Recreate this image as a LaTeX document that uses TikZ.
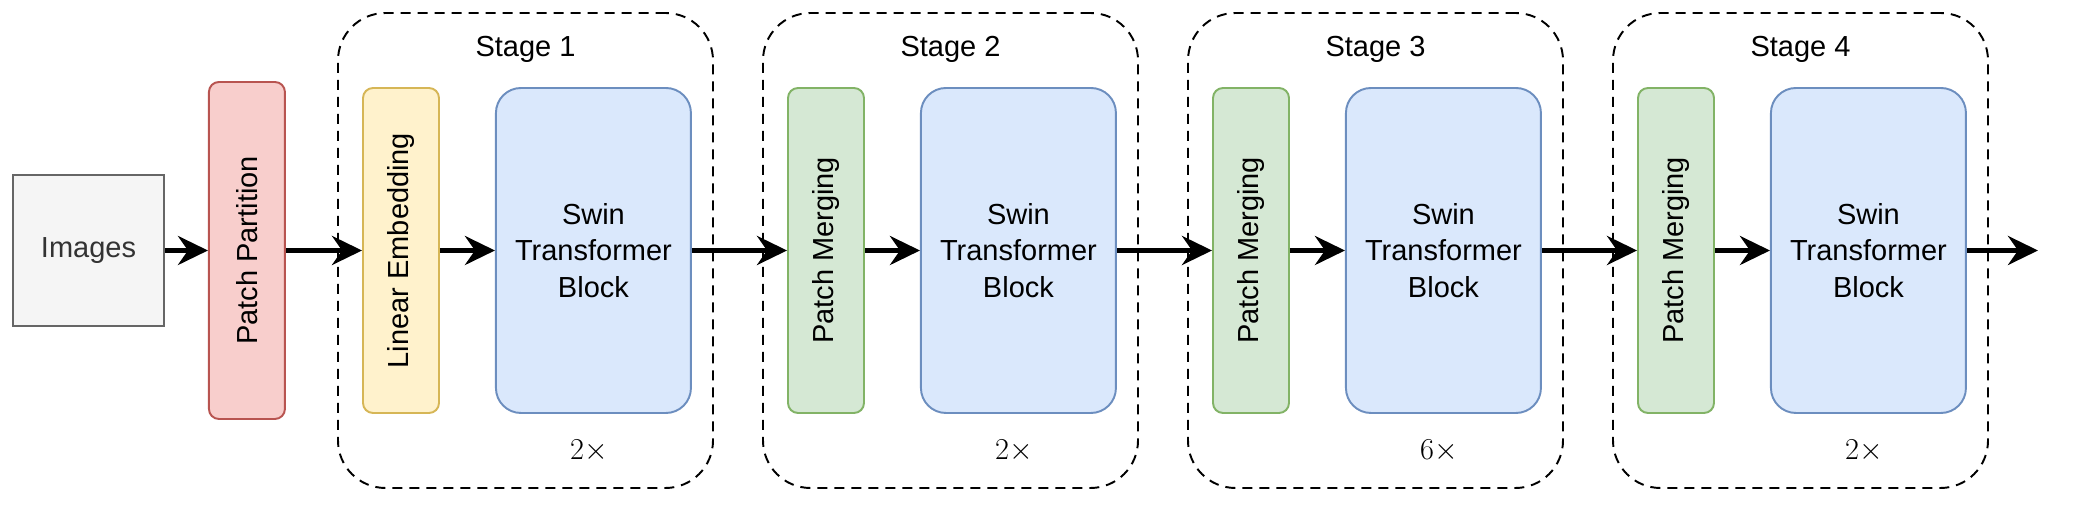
\documentclass[tikz,border=0pt]{standalone}
\usepackage{fontspec}
\setmainfont{Liberation Sans}
\usetikzlibrary{arrows.meta,positioning,calc}
\definecolor{ImgGray}{HTML}{F5F5F5}
\definecolor{ImgLine}{HTML}{666666}
\definecolor{ImgInk}{HTML}{333333}
\definecolor{PartRed}{HTML}{F8CECC}
\definecolor{PartLine}{HTML}{B85450}
\definecolor{EmbGold}{HTML}{FFF2CC}
\definecolor{EmbLine}{HTML}{D6B656}
\definecolor{MergeGreen}{HTML}{D5E8D4}
\definecolor{MergeLine}{HTML}{82B366}
\definecolor{SwinBlue}{HTML}{DAE8FC}
\definecolor{SwinLine}{HTML}{6C8EBF}
\tikzset{
  figlabel/.style={font=\fontsize{16.5}{20.8}\selectfont, text=black},
  figfactor/.style={font=\fontsize{19}{23}\selectfont, text=black},
  figbox/.style={line width=1.1pt, align=center},
  imgbox/.style={figbox, fill=ImgGray, draw=ImgLine, text=ImgInk, minimum width=3.02cm, minimum height=3.02cm},
  thinbox/.style={figbox, rounded corners=0.2cm, minimum width=1.52cm, minimum height=6.5cm},
  partbox/.style={thinbox, fill=PartRed, draw=PartLine, minimum height=6.74cm},
  embbox/.style={thinbox, fill=EmbGold, draw=EmbLine},
  mergebox/.style={thinbox, fill=MergeGreen, draw=MergeLine},
  swinbox/.style={figbox, fill=SwinBlue, draw=SwinLine, rounded corners=0.5cm, minimum width=3.9cm, minimum height=6.5cm},
  stagebox/.style={draw=black, line width=1.1pt, dash pattern=on 0.2cm off 0.14cm, rounded corners=0.95cm, minimum width=7.5cm, minimum height=9.5cm},
  figflow/.style={-{Stealth[length=0.6cm, width=0.58cm, inset=0.2cm]}, line width=2.6pt, draw=black}
}
\begin{document}
\begin{tikzpicture}[every node/.style={figlabel}]
\useasboundingbox (0,0) rectangle (41.5,10.26);
% stage frames
\node[stagebox] (st1) at (10.51,5.25) {};
\node[stagebox] (st2) at (19.01,5.25) {};
\node[stagebox] (st3) at (27.51,5.25) {};
\node[stagebox] (st4) at (36.01,5.25) {};
% input
\node[imgbox] (img) at (1.77,5.25) {Images};
\node[partbox, right=0.86cm of img, label={[rotate=90, figlabel]center:Patch Partition}] (pp) {};
% stage 1
\node[embbox, right=0.5cm of st1.west, label={[rotate=90, figlabel]center:Linear Embedding}] (le) {};
\node[swinbox, right=1.1cm of le] (sw1) {Swin\\Transformer\\Block};
\node (t1) at ($(st1.north)+(0,-0.74)$) {Stage 1};
\node[figfactor] (f1) at ($(sw1.south)+(-0.09,-0.74)$) {$2\times$};
% stage 2
\node[mergebox, right=0.5cm of st2.west, label={[rotate=90, figlabel]center:Patch Merging}] (pm2) {};
\node[swinbox, right=1.1cm of pm2] (sw2) {Swin\\Transformer\\Block};
\node (t2) at ($(st2.north)+(0,-0.74)$) {Stage 2};
\node[figfactor] (f2) at ($(sw2.south)+(-0.09,-0.74)$) {$2\times$};
% stage 3
\node[mergebox, right=0.5cm of st3.west, label={[rotate=90, figlabel]center:Patch Merging}] (pm3) {};
\node[swinbox, right=1.1cm of pm3] (sw3) {Swin\\Transformer\\Block};
\node (t3) at ($(st3.north)+(0,-0.74)$) {Stage 3};
\node[figfactor] (f3) at ($(sw3.south)+(-0.09,-0.74)$) {$6\times$};
% stage 4
\node[mergebox, right=0.5cm of st4.west, label={[rotate=90, figlabel]center:Patch Merging}] (pm4) {};
\node[swinbox, right=1.1cm of pm4] (sw4) {Swin\\Transformer\\Block};
\node (t4) at ($(st4.north)+(0,-0.74)$) {Stage 4};
\node[figfactor] (f4) at ($(sw4.south)+(-0.09,-0.74)$) {$2\times$};
\coordinate (out) at (40.76,5.25);
% flow
\draw[figflow] (img) -- (pp);
\draw[figflow] (pp) -- (le);
\draw[figflow] (le) -- (sw1);
\draw[figflow] (sw1) -- (pm2);
\draw[figflow] (pm2) -- (sw2);
\draw[figflow] (sw2) -- (pm3);
\draw[figflow] (pm3) -- (sw3);
\draw[figflow] (sw3) -- (pm4);
\draw[figflow] (pm4) -- (sw4);
\draw[figflow] (sw4) -- (out);
\end{tikzpicture}
\end{document}
